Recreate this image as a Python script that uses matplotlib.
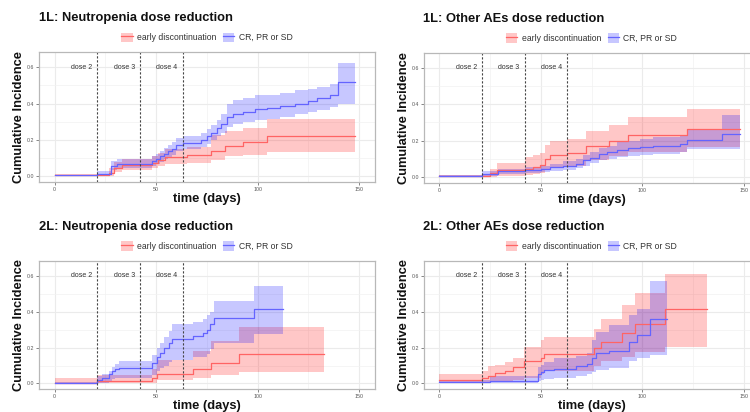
import numpy as np
import matplotlib
matplotlib.use('Agg')
import matplotlib.pyplot as plt
from matplotlib.patches import Patch
from matplotlib.lines import Line2D

plt.rcParams['font.family'] = ['Liberation Sans', 'DejaVu Sans']

titles = ['1L: Neutropenia dose reduction', '1L: Other AEs dose reduction',
          '2L: Neutropenia dose reduction', '2L: Other AEs dose reduction']
group_labels = ['early discontinuation', 'CR, PR or SD']
dose_days = [21, 42, 63]
dose_labels = ['dose 2', 'dose 3', 'dose 4']

# 1L neutropenia
n1_early_t = [0, 27, 29.5, 33, 48, 51, 54.4, 65, 77, 83.8, 92.9, 104.4]
n1_early_est = [0.005, 0.02, 0.045, 0.062, 0.075, 0.09, 0.108, 0.118, 0.142, 0.168, 0.19, 0.22]
n1_early_lo = [0.0, 0.0, 0.022, 0.035, 0.045, 0.058, 0.07, 0.075, 0.09, 0.11, 0.12, 0.135]
n1_early_hi = [0.012, 0.045, 0.08, 0.097, 0.11, 0.13, 0.148, 0.16, 0.225, 0.25, 0.265, 0.318]
n1_early_end = 147.8
n1_resp_t = [0, 21, 28, 30.6, 47.8, 50, 52, 54, 56, 58, 60, 63, 72, 75, 77, 80, 82, 85,
             88, 93, 98.6, 104.4, 111, 118.3, 124.8, 129, 135.5, 139.6]
n1_resp_est = [0.005, 0.015, 0.058, 0.07, 0.082, 0.097, 0.11, 0.124, 0.14, 0.152, 0.174, 0.186,
               0.2, 0.22, 0.24, 0.265, 0.29, 0.325, 0.345, 0.355, 0.37, 0.378, 0.387, 0.4,
               0.413, 0.433, 0.45, 0.517]
n1_resp_lo = [0.0, 0.005, 0.035, 0.045, 0.058, 0.07, 0.08, 0.095, 0.108, 0.118, 0.138, 0.15,
              0.163, 0.18, 0.2, 0.222, 0.24, 0.27, 0.29, 0.3, 0.31, 0.318, 0.328, 0.345,
              0.355, 0.365, 0.38, 0.4]
n1_resp_hi = [0.01, 0.03, 0.085, 0.095, 0.11, 0.125, 0.14, 0.155, 0.172, 0.187, 0.21, 0.222,
              0.237, 0.26, 0.28, 0.31, 0.345, 0.4, 0.42, 0.43, 0.445, 0.45, 0.46, 0.475,
              0.482, 0.49, 0.51, 0.625]
n1_resp_end = 147.8

# 1L other AEs
o1_early_t = [0, 25, 28.5, 42, 46, 49.5, 52, 54.5, 63, 72, 83.3, 93.1, 121.9]
o1_early_est = [0.004, 0.02, 0.036, 0.045, 0.054, 0.066, 0.1, 0.12, 0.133, 0.17, 0.2, 0.232, 0.264]
o1_early_lo = [0.0, 0.0, 0.005, 0.01, 0.015, 0.02, 0.04, 0.055, 0.06, 0.09, 0.115, 0.135, 0.165]
o1_early_hi = [0.008, 0.045, 0.075, 0.11, 0.12, 0.13, 0.175, 0.2, 0.21, 0.25, 0.285, 0.327, 0.373]
o1_early_end = 148.1
o1_resp_t = [0, 21.2, 29, 42, 50, 54.5, 61, 67.5, 70.8, 74, 78.4, 82.5, 87.4, 93.1, 98.8,
             105.4, 118.5, 121.9, 139.1]
o1_resp_est = [0.004, 0.017, 0.03, 0.036, 0.044, 0.053, 0.062, 0.072, 0.09, 0.105, 0.125,
               0.135, 0.148, 0.158, 0.163, 0.172, 0.181, 0.204, 0.237]
o1_resp_lo = [0.0, 0.005, 0.015, 0.02, 0.026, 0.033, 0.04, 0.048, 0.062, 0.075, 0.09, 0.098,
              0.108, 0.117, 0.12, 0.128, 0.135, 0.153, 0.152]
o1_resp_hi = [0.008, 0.03, 0.045, 0.052, 0.062, 0.073, 0.085, 0.097, 0.118, 0.135, 0.16,
              0.172, 0.19, 0.2, 0.207, 0.218, 0.228, 0.258, 0.338]
o1_resp_end = 148.1

# 2L neutropenia
n2_early_t = [0, 21, 47.9, 50.3, 68, 76.9, 91]
n2_early_est = [0.004, 0.016, 0.03, 0.055, 0.083, 0.114, 0.165]
n2_early_lo = [0.0, 0.0, 0.005, 0.018, 0.031, 0.045, 0.062]
n2_early_hi = [0.028, 0.045, 0.08, 0.132, 0.18, 0.237, 0.316]
n2_early_end = 132.6
n2_resp_t = [0, 21, 23.3, 26.7, 28.4, 30, 31.6, 47.9, 50.3, 52, 53.8, 56.2, 57.9, 68.4,
             73.3, 75, 76.6, 78.3, 98]
n2_resp_est = [0.004, 0.017, 0.031, 0.05, 0.068, 0.081, 0.086, 0.114, 0.15, 0.169, 0.196,
               0.224, 0.246, 0.264, 0.279, 0.297, 0.334, 0.365, 0.413]
n2_resp_lo = [0.0, 0.0, 0.005, 0.015, 0.025, 0.03, 0.031, 0.045, 0.07, 0.085, 0.1, 0.12,
              0.132, 0.148, 0.15, 0.165, 0.19, 0.225, 0.273]
n2_resp_hi = [0.01, 0.04, 0.05, 0.07, 0.09, 0.11, 0.123, 0.16, 0.2, 0.225, 0.26, 0.29,
              0.33, 0.343, 0.36, 0.38, 0.4, 0.462, 0.545]
n2_resp_end = 112.7

# 2L other AEs
o2_early_t = [0, 21, 24, 27.2, 32.1, 36.2, 41.9, 50.1, 51.7, 76.1, 79.4, 90, 96.5, 111.2]
o2_early_est = [0.022, 0.031, 0.044, 0.059, 0.072, 0.092, 0.127, 0.141, 0.165, 0.196, 0.233,
                0.279, 0.334, 0.413]
o2_early_lo = [0.0, 0.005, 0.01, 0.013, 0.016, 0.02, 0.031, 0.05, 0.068, 0.095, 0.123, 0.15,
               0.178, 0.206]
o2_early_hi = [0.055, 0.068, 0.095, 0.105, 0.119, 0.141, 0.206, 0.24, 0.26, 0.306, 0.361,
               0.435, 0.505, 0.609]
o2_early_end = 131.6
o2_resp_t = [0, 24.8, 48.4, 50.1, 51.7, 56.6, 67.2, 72.9, 75.3, 77, 83.5, 93.3, 97.3, 103.9]
o2_resp_est = [0.007, 0.013, 0.05, 0.064, 0.077, 0.083, 0.095, 0.108, 0.141, 0.169, 0.182,
               0.233, 0.27, 0.361]
o2_resp_lo = [0.0, 0.0, 0.015, 0.022, 0.025, 0.031, 0.04, 0.05, 0.065, 0.077, 0.086, 0.123,
              0.141, 0.16]
o2_resp_hi = [0.022, 0.04, 0.09, 0.105, 0.12, 0.141, 0.155, 0.17, 0.24, 0.288, 0.325, 0.38,
              0.417, 0.573]
o2_resp_end = 112.0

panels = [
    [(n1_early_t, n1_early_est, n1_early_lo, n1_early_hi, n1_early_end),
     (n1_resp_t, n1_resp_est, n1_resp_lo, n1_resp_hi, n1_resp_end)],
    [(o1_early_t, o1_early_est, o1_early_lo, o1_early_hi, o1_early_end),
     (o1_resp_t, o1_resp_est, o1_resp_lo, o1_resp_hi, o1_resp_end)],
    [(n2_early_t, n2_early_est, n2_early_lo, n2_early_hi, n2_early_end),
     (n2_resp_t, n2_resp_est, n2_resp_lo, n2_resp_hi, n2_resp_end)],
    [(o2_early_t, o2_early_est, o2_early_lo, o2_early_hi, o2_early_end),
     (o2_resp_t, o2_resp_est, o2_resp_lo, o2_resp_hi, o2_resp_end)],
]

line_colors = ['#FF6464', '#6464FF']
fill_colors = ['#FF0000', '#0000FF']

fig = plt.figure(figsize=(7.5, 4.12), dpi=100)
W, H = 750.0, 412.0
# panel frames in pixels: (left, top, width, height)
boxes = [(39.3, 52.3, 335.2, 130.0), (424.1, 53.0, 335.2, 129.7),
         (39.3, 261.0, 335.2, 128.3), (424.1, 261.0, 335.2, 128.3)]

for i, (left, top, w, h) in enumerate(boxes):
    ax = fig.add_axes([left / W, 1 - (top + h) / H, w / W, h / H])
    ax.set_xlim(-7.5, 157.5)
    ax.set_ylim(-0.0325, 0.6825)
    ax.set_xticks([0, 50, 100, 150])
    ax.set_xticks([25, 75, 125], minor=True)
    ax.set_yticks([0.0, 0.2, 0.4, 0.6])
    ax.set_yticks([0.1, 0.3, 0.5], minor=True)
    ax.set_yticklabels(['0.0', '0.2', '0.4', '0.6'])
    ax.grid(which='major', color='#EBEBEB', lw=0.8)
    ax.grid(which='minor', color='#F2F2F2', lw=0.5)
    ax.set_axisbelow(True)
    ax.tick_params(which='major', labelsize=3.8, colors='#555555', length=2, width=0.5, pad=1.5)
    ax.tick_params(which='minor', length=0)
    for sp in ax.spines.values():
        sp.set_color('#B8B8B8')
        sp.set_linewidth(0.9)

    for k, (t, est, lo, hi, t_end) in enumerate(panels[i]):
        tt = np.append(t, t_end)
        ax.fill_between(tt, np.append(lo, lo[-1]), np.append(hi, hi[-1]), step='post',
                        color=fill_colors[k], alpha=0.22, lw=0)
        ax.step(tt, np.append(est, est[-1]), where='post', color=line_colors[k], lw=0.9)

    for d, lab in zip(dose_days, dose_labels):
        ax.axvline(d, color='#444444', lw=0.8, dashes=(2, 1.6))
        ax.text(d - 2.5, 0.6, lab, ha='right', va='center', fontsize=5, color='#333333')

    ax.annotate(titles[i], xy=(0, 1), xycoords='axes fraction', xytext=(-0.5, 34 * 0.72),
                textcoords='offset points', ha='left', va='center', fontsize=9.3,
                fontweight='bold', color='#111111')
    ax.annotate('time (days)', xy=(0.5, 0), xycoords='axes fraction', xytext=(0, -17 * 0.72),
                textcoords='offset points', ha='center', va='center', fontsize=9.3,
                fontweight='bold', color='#111111')
    ax.annotate('Cumulative Incidence', xy=(0, 0.5), xycoords='axes fraction',
                xytext=(-20 * 0.72, 0), textcoords='offset points', ha='center', va='center',
                rotation=90, fontsize=9.3, fontweight='bold', color='#111111')

    handles = [(Patch(facecolor=fill_colors[k], alpha=0.22, lw=0),
                Line2D([], [], color=line_colors[k], lw=0.9)) for k in range(2)]
    ax.legend(handles, group_labels, loc='center', bbox_to_anchor=(0.5, 1 + 15 / h),
              ncol=2, frameon=False, fontsize=6.2, handlelength=1.3, handleheight=1.3,
              columnspacing=0.8, handletextpad=0.5, borderaxespad=0, labelcolor='#333333')

fig.savefig('out.png', dpi=100)
